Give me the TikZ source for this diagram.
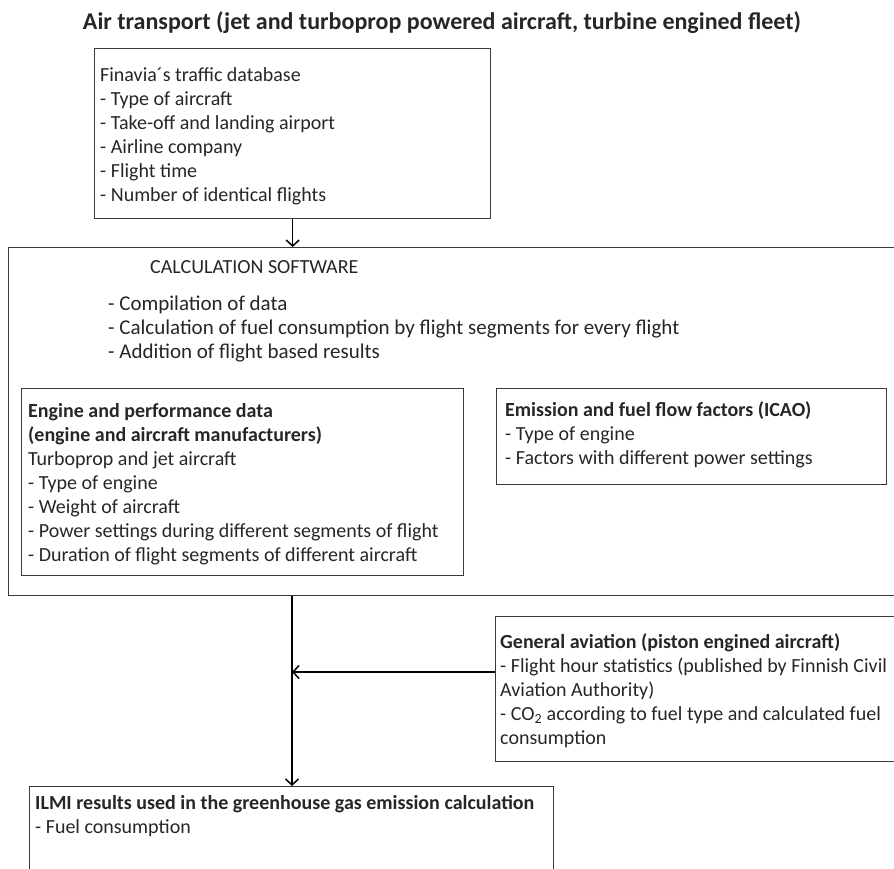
\documentclass[tikz,border=0pt]{standalone}
\usepackage{fontspec}
\setmainfont{Carlito}
\usetikzlibrary{arrows.meta}
\definecolor{boxgray}{HTML}{3A3A3A}
\begin{document}
\begin{tikzpicture}[x=1pt,y=-1pt,
  box/.style={draw=boxgray, line width=1.3pt, inner sep=0pt, anchor=north west},
  txt/.style={anchor=north west, inner sep=0pt, align=left, text=black!85, font=\fontsize{20}{24}\selectfont},
  arr/.style={draw=black, line width=1.5pt, -{Straight Barb[length=6pt,width=13pt]}}]
\useasboundingbox (0,0) rectangle (894,868);
\node[font=\bfseries\fontsize{24}{28}\selectfont, text=black!85, inner sep=0pt] (title) at (442,23) {Air transport (jet and turboprop powered aircraft, turbine engined fleet)};
% boxes
\node[box, minimum width=396pt, minimum height=170pt] (fin) at (94,48) {};
\node[box, minimum width=892pt, minimum height=348pt] (calc) at (8,247) {};
\node[box, minimum width=442pt, minimum height=187pt] (eng) at (21,388) {};
\node[box, minimum width=390pt, minimum height=96pt] (emi) at (496,388) {};
\node[box, minimum width=410pt, minimum height=145pt] (ga) at (495,616) {};
\node[box, minimum width=524pt, minimum height=100pt] (ilmi) at (29,786) {};
% texts
\node[txt] (fint) at (100,64) {\strut Finavia´s traffic database\\- Type of aircraft\\- Take-off and landing airport\\- Airline company\\- Flight time\\- Number of identical flights};
\node[txt] (calct) at (150,256) {\strut CALCULATION SOFTWARE};
\node[txt, font=\fontsize{21}{24}\selectfont] (calcl) at (108,293) {\strut - Compilation of data\\- Calculation of fuel consumption by flight segments for every flight\\- Addition of flight based results};
\node[txt] (engt) at (28,400) {\strut\textbf{Engine and performance data}\\\textbf{(engine and aircraft manufacturers)}\\Turboprop and jet aircraft\\- Type of engine\\- Weight of aircraft\\- Power settings during different segments of flight\\- Duration of flight segments of different aircraft};
\node[txt] (emit) at (505,399) {\strut\textbf{Emission and fuel flow factors (ICAO)}\\- Type of engine\\- Factors with different power settings};
\node[txt] (gat) at (500,631) {\strut\textbf{General aviation (piston engined aircraft)}\\- Flight hour statistics (published by Finnish Civil\\Aviation Authority)\\- CO\textsubscript{2} according to fuel type and calculated fuel\\consumption};
\node[txt] (ilmit) at (35,792) {\strut\textbf{ILMI results used in the greenhouse gas emission calculation}\\- Fuel consumption};
% connectors
\coordinate (j) at (292,672);
\draw[arr] (fin.south) -- (fin.south |- calc.north);
\draw[arr] (j |- calc.south) -- (j |- ilmi.north);
\draw[arr] (ga.west |- j) -- (j);
\end{tikzpicture}
\end{document}
